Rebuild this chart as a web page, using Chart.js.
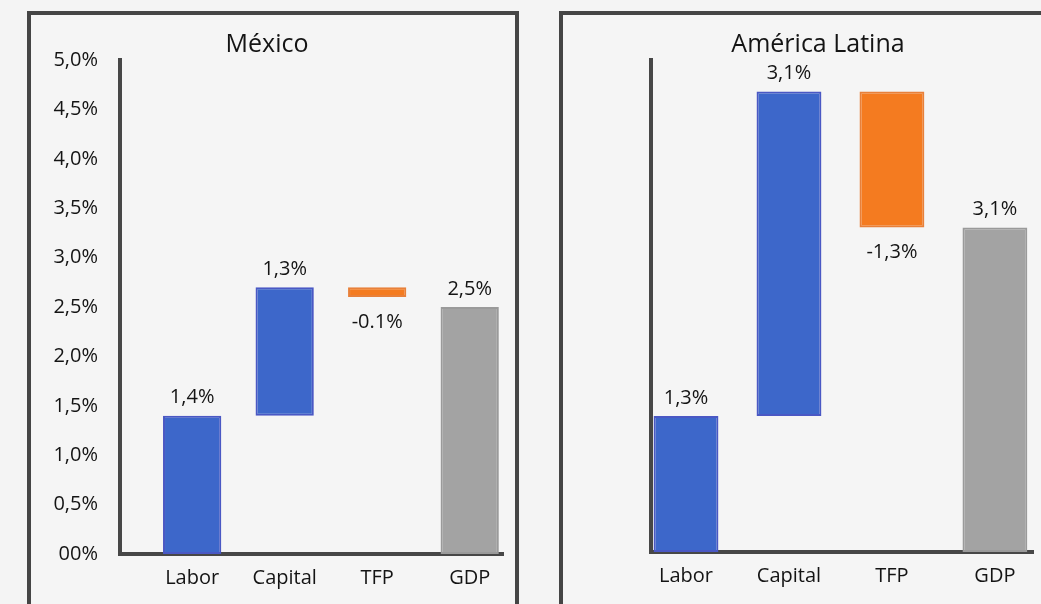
<!DOCTYPE html>
<html>
<head>
<meta charset="utf-8">
<script src="https://cdn.jsdelivr.net/npm/chart.js@4.4.1/dist/chart.umd.min.js"></script>
<style>
    html, body {
        margin: 0;
        padding: 0;
        width: 1041px;
        height: 604px;
        overflow: hidden;
        background: #f4f4f4;
    }
    .panel {
        position: absolute;
        top: 11px;
        width: 484px;
        height: 620px;
        border: 4px solid #454545;
        background: #f5f5f5;
    }
    #panelMexico { left: 27px; }
    #panelLatam { left: 559px; }
    canvas { display: block; }
</style>
</head>
<body>
<div class="panel" id="panelMexico"><canvas id="mexicoChart" width="484" height="600"></canvas></div>
<div class="panel" id="panelLatam"><canvas id="latamChart" width="484" height="600"></canvas></div>

<script>
// Growth decomposition: contributions of labor, capital and TFP to GDP growth
const categories = ["Labor", "Capital", "TFP", "GDP"];

const mexicoValues = [1.4, 1.3, -0.1, 2.5];
const mexicoLabels = ["1,4%", "1,3%", "-0.1%", "2,5%"];
const mexicoTickLabels = ["00%", "0,5%", "1,0%", "1,5%", "2,0%", "2,5%", "3,0%", "3,5%", "4,0%", "4,5%", "5,0%"];

const latamValues = [1.3, 3.1, -1.3, 3.1];
const latamLabels = ["1,3%", "3,1%", "-1,3%", "3,1%"];

const barColors = ["#3d67ca", "#3d67ca", "#f47b20", "#a3a3a3"];
const barBorders = ["#4a58c4", "#4a58c4", "#e8803a", "#9a9a9a"];

const FONT = '"Open Sans", "Noto Sans", sans-serif';
const TEXT = "#141414";

// Waterfall ranges: each factor stacks on the previous one, the total starts at zero
function waterfall(values) {
    let sum = 0;
    return values.map((v, i) => {
        if (i === values.length - 1) return { x: i, y: [0, v] };
        const range = { x: i, y: [sum, sum + v] };
        sum += v;
        return range;
    });
}

// Value labels above rising bars, below falling ones
const valueLabels = {
    id: "valueLabels",
    afterDatasetsDraw(chart, args, opts) {
        const { ctx } = chart;
        const meta = chart.getDatasetMeta(0);
        ctx.save();
        ctx.font = "20px " + FONT;
        ctx.fillStyle = TEXT;
        ctx.textAlign = "center";
        ctx.textBaseline = "middle";
        meta.data.forEach((bar, i) => {
            const top = Math.min(bar.y, bar.base);
            const bottom = Math.max(bar.y, bar.base);
            const y = opts.values[i] < 0 ? bottom + 25 : top - 18;
            ctx.fillText(opts.labels[i], bar.x, y);
        });
        ctx.restore();
    },
};

function buildChart(canvasId, cfg) {
    const el = document.getElementById(canvasId);
    return new Chart(el, {
        type: "bar",
        data: {
            datasets: [
                {
                    data: waterfall(cfg.values),
                    backgroundColor: barColors,
                    borderColor: barBorders,
                    borderWidth: 2,
                    borderSkipped: false,
                    barPercentage: 0.63,
                    categoryPercentage: 1,
                },
            ],
        },
        options: {
            responsive: false,
            animation: false,
            layout: { padding: cfg.padding },
            plugins: {
                legend: { display: false },
                tooltip: { enabled: false },
                title: {
                    display: true,
                    text: cfg.title,
                    color: TEXT,
                    font: { family: FONT, size: 25, weight: "normal" },
                    padding: { top: 15, bottom: 0 },
                },
                valueLabels: { values: cfg.values, labels: cfg.labels },
            },
            scales: {
                x: {
                    type: "linear",
                    offset: false,
                    min: cfg.xMin,
                    max: cfg.xMax,
                    grid: { display: false, drawTicks: false },
                    border: { display: true, color: "#474747", width: 4 },
                    afterBuildTicks: (scale) => {
                        scale.ticks = categories.map((_, i) => ({ value: i }));
                    },
                    afterFit: (scale) => {
                        scale.height = 40;
                    },
                    ticks: {
                        autoSkip: false,
                        maxRotation: 0,
                        padding: 12,
                        color: TEXT,
                        font: { family: FONT, size: 20 },
                        callback: (v) => categories[v],
                    },
                },
                y: {
                    min: 0,
                    max: cfg.yMax,
                    grid: { display: false, drawTicks: false },
                    border: { display: true, color: "#474747", width: 4 },
                    afterFit: (scale) => {
                        scale.width = cfg.yWidth;
                    },
                    ticks: {
                        display: cfg.tickLabels !== null,
                        stepSize: 0.5,
                        padding: 22,
                        color: TEXT,
                        font: { family: FONT, size: 20 },
                        callback: (v, i) => (cfg.tickLabels ? cfg.tickLabels[i] : ""),
                    },
                },
            },
        },
        plugins: [valueLabels],
    });
}

buildChart("mexicoChart", {
    title: "México",
    values: mexicoValues,
    labels: mexicoLabels,
    tickLabels: mexicoTickLabels,
    yMax: 5,
    yWidth: 89,
    xMin: -0.78,
    xMax: 3.36,
    padding: { left: 0, right: 12, top: 0, bottom: 21 },
});

buildChart("latamChart", {
    title: "América Latina",
    values: latamValues,
    labels: latamLabels,
    tickLabels: null,
    yMax: 4.7,
    yWidth: 48,
    xMin: -0.34,
    xMax: 3.37,
    padding: { left: 40, right: 14, top: 0, bottom: 23 },
});
</script>
</body>
</html>
